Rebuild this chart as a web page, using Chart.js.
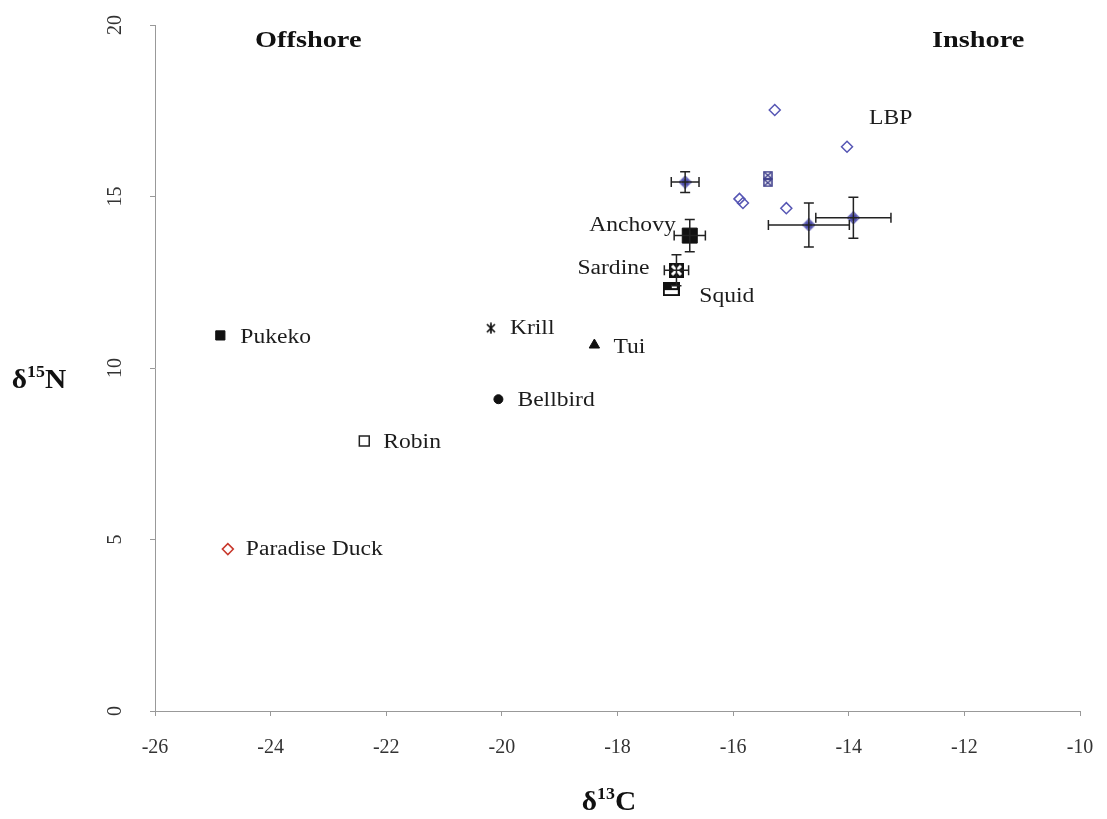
<!DOCTYPE html>
<html>
<head>
<meta charset="utf-8">
<script src="https://cdn.jsdelivr.net/npm/chart.js@4/dist/chart.umd.min.js"></script>
<style>
html,body{margin:0;padding:0;background:#fff;}
canvas{display:block;}
</style>
</head>
<body>
<canvas id="c" width="1107" height="819"></canvas>
<script>
// ---- data ----
const species = ['Pukeko', 'Paradise Duck', 'Robin', 'Krill', 'Bellbird', 'Tui', 'Squid', 'Sardine', 'Anchovy'];
const speciesC = [-24.87, -24.74, -22.38, -20.19, -20.06, -18.40, -17.07, -16.98, -16.75];
const speciesN = [10.95, 4.72, 7.87, 11.16, 9.09, 10.67, 12.30, 12.85, 13.86];
const speciesErrC = [0, 0, 0, 0, 0, 0, 0, 0.21, 0.27];
const speciesErrN = [0, 0, 0, 0, 0, 0, 0, 0.45, 0.47];

// LBP individual samples (open diamonds)
const lbpC = [-15.28, -14.03, -15.89, -15.83, -15.08];
const lbpN = [17.52, 16.45, 14.93, 14.81, 14.66];
// LBP group means with error bars
const lbpMeanC = [-16.83, -14.69, -13.92];
const lbpMeanN = [15.42, 14.17, 14.38];
const lbpMeanErrC = [0.24, 0.70, 0.65];
const lbpMeanErrN = [0.30, 0.64, 0.60];
// LBP boxed samples
const lbpBoxC = [-15.40, -15.40];
const lbpBoxN = [15.62, 15.40];

const xTicks = [-26, -24, -22, -20, -18, -16, -14, -12, -10];
const yTicks = [0, 5, 10, 15, 20];

// ---- presentation ----
const SERIF = '"Liberation Serif", "Times New Roman", serif';
const STRETCH = 1.18;
const BLUE = '#5656b4';

function mk(w, h, fn) {
  const c = document.createElement('canvas');
  c.width = w; c.height = h;
  fn(c.getContext('2d'), w, h);
  return c;
}
const sardineImg = mk(15, 15, (g, w, h) => {
  g.fillStyle = '#111'; g.fillRect(0, 0, w, h);
  g.strokeStyle = '#fff'; g.lineWidth = 3;
  g.beginPath(); g.moveTo(3, 3); g.lineTo(w - 3, h - 3); g.moveTo(w - 3, 3); g.lineTo(3, h - 3); g.stroke();
});
const squidImg = mk(17, 14, (g, w, h) => {
  g.fillStyle = '#fff'; g.fillRect(0, 0, w, h);
  g.fillStyle = '#111'; g.fillRect(0, 0, w, 8);
  g.fillStyle = '#fff'; g.fillRect(9, 3, 5, 3);
  g.strokeStyle = '#111'; g.lineWidth = 2; g.strokeRect(1, 1, w - 2, h - 2);
});
const krillImg = mk(12, 12, (g, w, h) => {
  g.strokeStyle = '#111'; g.lineWidth = 1.7;
  g.beginPath();
  g.moveTo(2, 2); g.lineTo(w - 2, h - 2); g.moveTo(w - 2, 2); g.lineTo(2, h - 2);
  g.moveTo(w / 2, 0.5); g.lineTo(w / 2, h - 0.5);
  g.stroke();
});
const boxImg = mk(10, 9, (g, w, h) => {
  g.strokeStyle = '#3a3a88'; g.lineWidth = 1.5;
  g.strokeRect(1, 1, w - 2, h - 2);
  g.beginPath(); g.moveTo(2, 2); g.lineTo(w - 2, h - 2); g.moveTo(w - 2, 2); g.lineTo(2, h - 2); g.stroke();
});
const meanImg = mk(13, 13, (g, w, h) => {
  g.strokeStyle = BLUE; g.lineWidth = 1.4;
  g.beginPath(); g.moveTo(w / 2, 0.8); g.lineTo(w - 0.8, h / 2); g.lineTo(w / 2, h - 0.8); g.lineTo(0.8, h / 2); g.closePath(); g.stroke();
  g.fillStyle = '#4a4aa6';
  g.beginPath(); g.arc(w / 2, h / 2, 3.6, 0, Math.PI * 2); g.fill();
});

const speciesStyle = {
  'Pukeko':        { pointStyle: 'rect', radius: 6.5, bg: '#111', border: '#111', bw: 1 },
  'Paradise Duck': { pointStyle: 'rectRot', radius: 5.5, bg: '#fff', border: '#c8382c', bw: 1.5 },
  'Robin':         { pointStyle: 'rect', radius: 7, bg: '#fff', border: '#222', bw: 1.5 },
  'Krill':         { pointStyle: krillImg, radius: 6, bg: '#111', border: '#111', bw: 1 },
  'Bellbird':      { pointStyle: 'circle', radius: 4.5, bg: '#111', border: '#111', bw: 1 },
  'Tui':           { pointStyle: 'triangle', radius: 6, bg: '#111', border: '#111', bw: 1 },
  'Squid':         { pointStyle: squidImg, radius: 7, bg: '#111', border: '#111', bw: 1 },
  'Sardine':       { pointStyle: sardineImg, radius: 7, bg: '#111', border: '#111', bw: 1 },
  'Anchovy':       { pointStyle: 'rect', radius: 10.6, bg: '#111', border: '#111', bw: 1 }
};
// label placement, pixel offsets from the point
const labelPlace = {
  'Pukeko':        { dx: 20, dy: 2, align: 'left' },
  'Paradise Duck': { dx: 18, dy: 1, align: 'left' },
  'Robin':         { dx: 19, dy: 2, align: 'left' },
  'Krill':         { dx: 19, dy: 1, align: 'left' },
  'Bellbird':      { dx: 19, dy: 2, align: 'left' },
  'Tui':           { dx: 19, dy: 3, align: 'left' },
  'Squid':         { dx: 28, dy: 8, align: 'left' },
  'Sardine':       { dx: -27, dy: -1, align: 'right' },
  'Anchovy':       { dx: -14, dy: -10, align: 'right' }
};

const datasets = species.map((name, i) => {
  const s = speciesStyle[name];
  return {
    label: name,
    data: [{ x: speciesC[i], y: speciesN[i], ex: speciesErrC[i], ey: speciesErrN[i] }],
    pointStyle: s.pointStyle, pointRadius: s.radius,
    backgroundColor: s.bg, borderColor: s.border, borderWidth: s.bw
  };
});
datasets.push({
  label: 'LBP samples',
  data: lbpC.map((c, i) => ({ x: c, y: lbpN[i] })),
  pointStyle: 'rectRot', pointRadius: 5.5,
  backgroundColor: 'rgba(255,255,255,0)', borderColor: BLUE, borderWidth: 1.5
});
datasets.push({
  label: 'LBP boxed',
  data: lbpBoxC.map((c, i) => ({ x: c, y: lbpBoxN[i] })),
  pointStyle: boxImg, pointRadius: 5,
  backgroundColor: BLUE, borderColor: BLUE
});
datasets.push({
  label: 'LBP means',
  data: lbpMeanC.map((c, i) => ({ x: c, y: lbpMeanN[i], ex: lbpMeanErrC[i], ey: lbpMeanErrN[i] })),
  pointStyle: meanImg, pointRadius: 6,
  backgroundColor: BLUE, borderColor: BLUE
});

function stretchText(ctx, text, x, y, align, font, sx) {
  ctx.save();
  ctx.font = font;
  ctx.textBaseline = 'middle';
  ctx.textAlign = 'left';
  const w = ctx.measureText(text).width * sx;
  const left = align === 'left' ? x : (align === 'right' ? x - w : x - w / 2);
  ctx.translate(left, y);
  ctx.scale(sx, 1);
  ctx.fillText(text, 0, 0);
  ctx.restore();
}
// rich text: [text, size, raise]
function richText(ctx, parts, cx, cy, sx) {
  ctx.save();
  ctx.textBaseline = 'alphabetic';
  ctx.textAlign = 'left';
  let total = 0;
  parts.forEach(p => { ctx.font = 'bold ' + p[1] + 'px ' + SERIF; total += ctx.measureText(p[0]).width * sx; });
  let x = cx - total / 2;
  parts.forEach(p => {
    ctx.font = 'bold ' + p[1] + 'px ' + SERIF;
    const w = ctx.measureText(p[0]).width * sx;
    ctx.save();
    ctx.translate(x, cy - p[2]);
    ctx.scale(sx, 1);
    ctx.fillText(p[0], 0, 0);
    ctx.restore();
    x += w;
  });
  ctx.restore();
}

const errorBars = {
  id: 'errorBars',
  afterDatasetsDraw(chart) {
    const ctx = chart.ctx;
    const xs = chart.scales.x, ys = chart.scales.y;
    ctx.save();
    ctx.strokeStyle = '#222';
    ctx.lineWidth = 1.5;
    const cap = 5;
    chart.data.datasets.forEach(ds => {
      ds.data.forEach(d => {
        if (!d.ex && !d.ey) return;
        const px = xs.getPixelForValue(d.x), py = ys.getPixelForValue(d.y);
        ctx.beginPath();
        if (d.ex) {
          const x1 = xs.getPixelForValue(d.x - d.ex), x2 = xs.getPixelForValue(d.x + d.ex);
          ctx.moveTo(x1, py); ctx.lineTo(x2, py);
          ctx.moveTo(x1, py - cap); ctx.lineTo(x1, py + cap);
          ctx.moveTo(x2, py - cap); ctx.lineTo(x2, py + cap);
        }
        if (d.ey) {
          const y1 = ys.getPixelForValue(d.y - d.ey), y2 = ys.getPixelForValue(d.y + d.ey);
          ctx.moveTo(px, y1); ctx.lineTo(px, y2);
          ctx.moveTo(px - cap, y1); ctx.lineTo(px + cap, y1);
          ctx.moveTo(px - cap, y2); ctx.lineTo(px + cap, y2);
        }
        ctx.stroke();
      });
    });
    ctx.restore();
  }
};

const textLayer = {
  id: 'textLayer',
  afterDraw(chart) {
    const ctx = chart.ctx;
    const xs = chart.scales.x, ys = chart.scales.y;
    ctx.save();
    ctx.fillStyle = '#1c1c1c';
    const font = '20px ' + SERIF;
    species.forEach((name, i) => {
      const p = labelPlace[name];
      const px = xs.getPixelForValue(speciesC[i]), py = ys.getPixelForValue(speciesN[i]);
      stretchText(ctx, name, px + p.dx, py + p.dy, p.align, font, STRETCH);
    });
    // LBP label next to the upper-right sample
    stretchText(ctx, 'LBP', xs.getPixelForValue(lbpC[1]) + 22, ys.getPixelForValue(lbpN[1]) - 28, 'left', font, STRETCH);
    // region headings
    ctx.fillStyle = '#111';
    stretchText(ctx, 'Offshore', xs.getPixelForValue(-24.27), ys.getPixelForValue(19.53), 'left', 'bold 24px ' + SERIF, STRETCH);
    stretchText(ctx, 'Inshore', xs.getPixelForValue(-12.56), ys.getPixelForValue(19.53), 'left', 'bold 24px ' + SERIF, STRETCH);
    // rotated y tick labels
    ctx.fillStyle = '#333';
    ctx.font = '20px ' + SERIF;
    ctx.textAlign = 'center';
    ctx.textBaseline = 'middle';
    yTicks.forEach(v => {
      ctx.save();
      ctx.translate(116, ys.getPixelForValue(v));
      ctx.rotate(-Math.PI / 2);
      ctx.fillText(String(v), 0, 0);
      ctx.restore();
    });
    // axis titles
    ctx.fillStyle = '#111';
    richText(ctx, [['δ', 28, 0], ['15', 17, 11], ['N', 28, 0]], 39, 388, 1.05);
    richText(ctx, [['δ', 28, 0], ['13', 17, 11], ['C', 28, 0]], 609, 810, 1.05);
    ctx.restore();
  }
};

new Chart(document.getElementById('c'), {
  type: 'scatter',
  data: { datasets },
  options: {
    responsive: false,
    devicePixelRatio: 1,
    animation: false,
    layout: { padding: { top: 25, right: 27, left: 0, bottom: 0 } },
    plugins: { legend: { display: false }, tooltip: { enabled: false } },
    scales: {
      x: {
        type: 'linear', min: -26, max: -10,
        afterBuildTicks: s => { s.ticks = xTicks.map(v => ({ value: v })); },
        ticks: { color: '#333', font: { family: SERIF, size: 20 }, padding: 20, maxRotation: 0, autoSkip: false },
        grid: { drawOnChartArea: false, drawTicks: true, tickLength: 5, color: '#999' },
        border: { display: true, color: '#999', width: 1 },
        afterFit: s => { s.height = 108; s.paddingLeft = 0; s.paddingRight = 0; }
      },
      y: {
        type: 'linear', min: 0, max: 20,
        afterBuildTicks: s => { s.ticks = yTicks.map(v => ({ value: v })); },
        ticks: { display: false },
        grid: { drawOnChartArea: false, drawTicks: true, tickLength: 5, color: '#999' },
        border: { display: true, color: '#999', width: 1 },
        afterFit: s => { s.width = 155; s.paddingTop = 0; s.paddingBottom = 0; }
      }
    }
  },
  plugins: [errorBars, textLayer]
});
</script>
</body>
</html>
